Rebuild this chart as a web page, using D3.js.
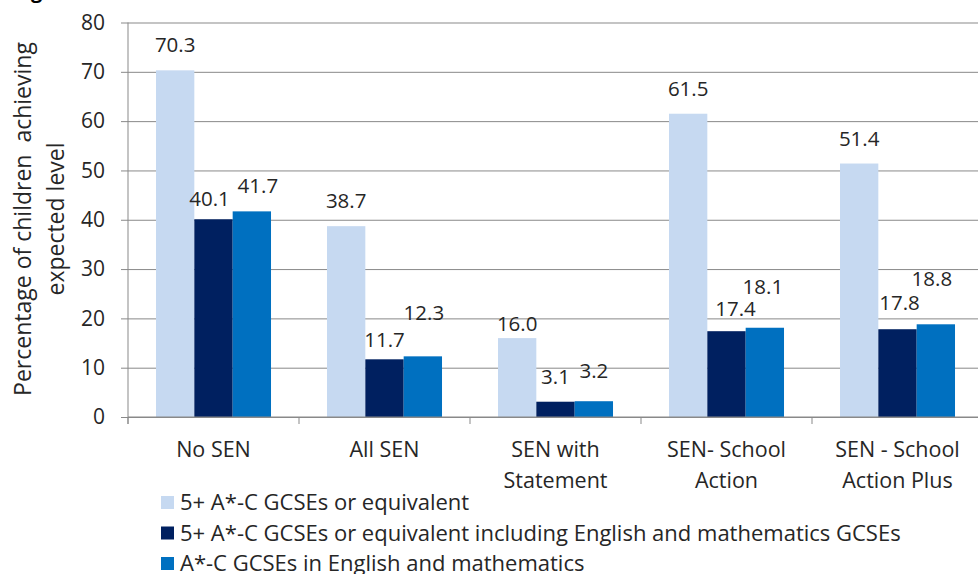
<!DOCTYPE html>
<html>
<head>
<meta charset="utf-8">
<script src="https://cdn.jsdelivr.net/npm/d3@7"></script>
<style>
    body { margin: 0; background: #fff; }
    svg { display: block; font-family: "Open Sans", sans-serif; }
    .grid line { stroke: #898989; stroke-width: 1; }
    .axis-line { stroke: #898989; stroke-width: 1; }
    text { fill: #262626; }
</style>
</head>
<body>
<div id="chart"></div>
<script>
// data
const categories = [
    ["No SEN"],
    ["All SEN"],
    ["SEN with", "Statement"],
    ["SEN- School", "Action"],
    ["SEN - School", "Action Plus"],
];
const series_names = [
    "5+ A*-C GCSEs or equivalent",
    "5+ A*-C GCSEs or equivalent including English and mathematics GCSEs",
    "A*-C GCSEs in English and mathematics",
];
const five_plus = [70.3, 38.7, 16.0, 61.5, 51.4];
const five_plus_eng_maths = [40.1, 11.7, 3.1, 17.4, 17.8];
const eng_maths = [41.7, 12.3, 3.2, 18.1, 18.8];
const y_ticks = [0, 10, 20, 30, 40, 50, 60, 70, 80];

const colors = ["#C6D9F1", "#002060", "#0070C0"];

// labels that were dragged by hand in the original (dx, dy in px)
const label_nudge = {
    "0-1": [-4, 5],
    "0-2": [6, 0],
    "1-1": [0, 6],
    "1-2": [1, -18],
    "2-0": [0, 11],
    "2-2": [0, -5],
    "3-1": [9, 3],
    "3-2": [-2, -16],
    "4-1": [2, -1],
    "4-2": [-4, -20],
};

const settings = {
    width: 978,
    height: 574,
    left: 128,
    right: 983,
    top: 22.5,
    bottom: 417,
    font: {
        label: 20.5,
        tick: 21,
        category: 21.5,
        legend: 22,
        title: 23,
    },
};

const values = [five_plus, five_plus_eng_maths, eng_maths];
const cat_keys = categories.map((c) => c.join(" "));
const rows = cat_keys.map((k, i) => ({
    key: k,
    idx: i,
    bars: values.map((v, s) => ({ s: s, value: v[i] })),
}));

const svg = d3
    .select("#chart")
    .append("svg")
    .attr("width", settings.width)
    .attr("height", settings.height);

const x = d3
    .scaleBand()
    .domain(cat_keys)
    .range([settings.left, settings.right])
    .padding(0);
const x1 = d3
    .scaleBand()
    .domain([0, 1, 2])
    .range([0, x.bandwidth()])
    .paddingInner(0)
    .paddingOuter(0.73);
const y = d3
    .scaleLinear()
    .domain([0, 80])
    .range([settings.bottom, settings.top]);

// cut-off figure title at the very top
svg.append("text")
    .attr("x", 14)
    .attr("y", -2)
    .attr("font-size", 20)
    .attr("font-weight", "bold")
    .style("fill", "#000")
    .text("Figure");

// gridlines + y axis
const yAxis = d3
    .axisLeft(y)
    .tickValues(y_ticks)
    .tickSize(-(settings.right - settings.left))
    .tickPadding(23)
    .tickFormat(d3.format("d"));
const gy = svg
    .append("g")
    .attr("class", "grid")
    .attr("transform", `translate(${settings.left},0)`)
    .call(yAxis);
gy.select(".domain").remove();
gy.selectAll(".tick line").attr("x1", -7);
gy.selectAll(".tick text")
    .attr("font-size", settings.font.tick)
    .attr("font-family", "Open Sans")
    .style("fill", "#262626");

// y axis line
svg.append("line")
    .attr("class", "axis-line")
    .attr("x1", settings.left)
    .attr("x2", settings.left)
    .attr("y1", settings.top)
    .attr("y2", settings.bottom + 7);

// bars
const groups = svg
    .selectAll("g.cat")
    .data(rows)
    .join("g")
    .attr("class", "cat")
    .attr("transform", (d) => `translate(${x(d.key)},0)`);

groups
    .selectAll("rect")
    .data((d) => d.bars)
    .join("rect")
    .attr("x", (d) => x1(d.s))
    .attr("width", x1.bandwidth())
    .attr("y", (d) => y(d.value))
    .attr("height", (d) => y(0) - y(d.value))
    .attr("fill", (d) => colors[d.s]);

// value labels
groups
    .selectAll("text.val")
    .data((d) => d.bars.map((b) => ({ ...b, c: d.idx })))
    .join("text")
    .attr("class", "val")
    .attr("text-anchor", "middle")
    .attr("font-size", settings.font.label)
    .attr("x", (d) => {
        const n = label_nudge[d.c + "-" + d.s] || [0, 0];
        return x1(d.s) + x1.bandwidth() / 2 + n[0];
    })
    .attr("y", (d) => {
        const n = label_nudge[d.c + "-" + d.s] || [0, 0];
        return y(d.value) - 18 + n[1];
    })
    .text((d) => d.value.toFixed(1));

// x axis
svg.append("line")
    .attr("class", "axis-line")
    .attr("x1", settings.left)
    .attr("x2", settings.right)
    .attr("y1", settings.bottom)
    .attr("y2", settings.bottom);

const boundaries = cat_keys.map((k) => x(k)).concat([settings.right]);
svg.selectAll("line.xtick")
    .data(boundaries)
    .join("line")
    .attr("class", "axis-line")
    .attr("x1", (d) => d)
    .attr("x2", (d) => d)
    .attr("y1", settings.bottom)
    .attr("y2", settings.bottom + 7);

svg.selectAll("text.cat-label")
    .data(categories)
    .join("text")
    .attr("class", "cat-label")
    .attr("text-anchor", "middle")
    .attr("font-size", settings.font.category)
    .attr("x", (d, i) => x(cat_keys[i]) + x.bandwidth() / 2)
    .attr("y", 457)
    .selectAll("tspan")
    .data((d) => d)
    .join("tspan")
    .attr("x", function () {
        return d3.select(this.parentNode).attr("x");
    })
    .attr("dy", (d, i) => (i == 0 ? 0 : 31))
    .text((d) => d);

// y title
const ytitle = svg
    .append("text")
    .attr("text-anchor", "middle")
    .attr("font-size", settings.font.title)
    .style("white-space", "pre")
    .attr("transform", "translate(31,219) rotate(-90)");
ytitle.append("tspan").attr("x", 0).attr("y", 0).text("Percentage of children  achieving");
ytitle.append("tspan").attr("x", 0).attr("y", 33).text("expected level");

// legend
const legend = svg
    .selectAll("g.legend")
    .data(series_names)
    .join("g")
    .attr("class", "legend")
    .attr("transform", (d, i) => `translate(161,${496 + i * 30.5})`);
legend
    .append("rect")
    .attr("width", 13)
    .attr("height", 13)
    .attr("fill", (d, i) => colors[i]);
legend
    .append("text")
    .attr("x", 19)
    .attr("y", 14)
    .attr("font-size", settings.font.legend)
    .text((d) => d);
</script>
</body>
</html>
